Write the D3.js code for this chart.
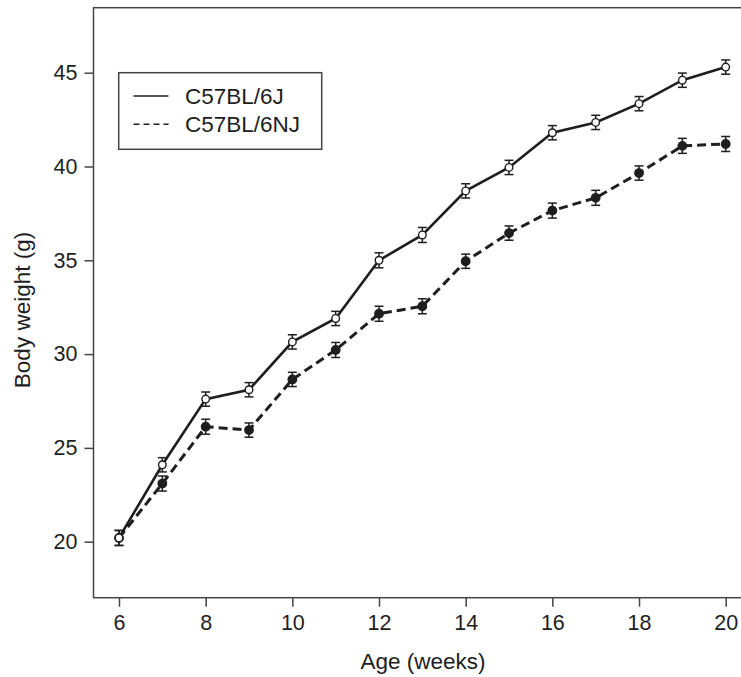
<!DOCTYPE html>
<html>
<head>
<meta charset="utf-8">
<script src="https://cdn.jsdelivr.net/npm/d3@7"></script>
<style>
html,body{margin:0;padding:0;background:#fff;}
svg{display:block;font-family:"Liberation Sans",Arial,Helvetica,sans-serif;}
</style>
</head>
<body>
<svg id="chart" width="741" height="677"></svg>
<script>
const weeks = [6,7,8,9,10,11,12,13,14,15,16,17,18,19,20];
const b6j = [20.2,24.1,27.6,28.1,30.65,31.9,35.0,36.35,38.7,39.95,41.8,42.35,43.35,44.6,45.3];
const b6jSem = [0.4,0.38,0.38,0.38,0.38,0.38,0.4,0.4,0.38,0.38,0.38,0.38,0.38,0.38,0.38];
const b6nj = [20.2,23.1,26.13,25.95,28.65,30.22,32.15,32.55,34.95,36.45,37.65,38.33,39.65,41.1,41.2];
const b6njSem = [0.4,0.4,0.4,0.38,0.38,0.4,0.4,0.4,0.38,0.38,0.4,0.4,0.38,0.4,0.4];
const xTicks = [6,8,10,12,14,16,18,20];
const yTicks = [20,25,30,35,40,45];
const seriesNames = ["C57BL/6J","C57BL/6NJ"];

(function(){
const svg = d3.select("#chart");
const ink = "#1e1e1e";
const frame = "#444";
const txt = "#1e1e1e";

const x = d3.scaleLinear().domain([6,20]).range([119,725.7]);
const y = d3.scaleLinear().domain([20,45]).range([541.7,72.7]);

const pLeft = 93.5, pTop = 7.7, pBottom = 597.7, pRight = 745;

svg.append("rect").attr("x",pLeft).attr("y",pTop).attr("width",pRight-pLeft).attr("height",pBottom-pTop)
  .attr("fill","none").attr("stroke",frame).attr("stroke-width",1.5);

const xAxis = d3.axisBottom(x).tickValues(xTicks).tickSize(9).tickPadding(8).tickFormat(d3.format("d"));
const gx = svg.append("g").attr("transform",`translate(0,${pBottom})`).call(xAxis);
gx.select(".domain").remove();
gx.selectAll("line").attr("stroke",frame).attr("stroke-width",1.5);
gx.selectAll("text").attr("font-size",21.5).attr("fill",txt).attr("font-family","Liberation Sans, Arial, sans-serif");

const yAxis = d3.axisLeft(y).tickValues(yTicks).tickSize(9).tickPadding(7).tickFormat(d3.format("d"));
const gy = svg.append("g").attr("transform",`translate(${pLeft},0)`).call(yAxis);
gy.select(".domain").remove();
gy.selectAll("line").attr("stroke",frame).attr("stroke-width",1.5);
gy.selectAll("text").attr("font-size",21.5).attr("fill",txt).attr("font-family","Liberation Sans, Arial, sans-serif");

svg.append("text").attr("x",423).attr("y",669).attr("text-anchor","middle")
  .attr("font-size",22.5).attr("fill",txt).text("Age (weeks)");
svg.append("text").attr("transform","translate(30,310) rotate(-90)").attr("text-anchor","middle")
  .attr("font-size",22.5).attr("fill",txt).text("Body weight (g)");

function drawSeries(vals, sems, dashed, filled){
  const data = weeks.map((w,i)=>({w, v:vals[i], s:sems[i]}));
  const line = d3.line().x(d=>x(d.w)).y(d=>y(d.v));
  svg.append("path").datum(data).attr("d",line).attr("fill","none")
    .attr("stroke",ink).attr("stroke-width",dashed?3:2.6)
    .attr("stroke-dasharray",dashed?"9,5":null);
  const g = svg.append("g");
  const eb = g.selectAll("g.eb").data(data).enter().append("g");
  eb.append("line").attr("x1",d=>x(d.w)).attr("x2",d=>x(d.w))
    .attr("y1",d=>y(d.v-d.s)).attr("y2",d=>y(d.v+d.s)).attr("stroke",ink).attr("stroke-width",1.5);
  eb.append("line").attr("x1",d=>x(d.w)-4.5).attr("x2",d=>x(d.w)+4.5)
    .attr("y1",d=>y(d.v+d.s)).attr("y2",d=>y(d.v+d.s)).attr("stroke",ink).attr("stroke-width",1.5);
  eb.append("line").attr("x1",d=>x(d.w)-4.5).attr("x2",d=>x(d.w)+4.5)
    .attr("y1",d=>y(d.v-d.s)).attr("y2",d=>y(d.v-d.s)).attr("stroke",ink).attr("stroke-width",1.5);
  eb.append("circle").attr("cx",d=>x(d.w)).attr("cy",d=>y(d.v)).attr("r",filled?4.2:3.8)
    .attr("fill",filled?ink:"#fff").attr("stroke",ink).attr("stroke-width",1.4);
}
drawSeries(b6nj, b6njSem, true, true);
drawSeries(b6j, b6jSem, false, false);

svg.append("rect").attr("x",118.7).attr("y",72.7).attr("width",203).attr("height",76.6)
  .attr("fill","#fff").attr("stroke",frame).attr("stroke-width",1.5);
const leg = svg.append("g");
seriesNames.forEach((name,i)=>{
  const yy = 96 + i*28.3;
  leg.append("line").attr("x1",133.5).attr("x2",168.5).attr("y1",yy).attr("y2",yy)
    .attr("stroke",ink).attr("stroke-width",1.6).attr("stroke-dasharray",i===1?"6,4":null);
  leg.append("text").attr("x",185).attr("y",yy+8).attr("font-size",22.5).attr("fill",txt).text(name);
});
})();
</script>
</body>
</html>
